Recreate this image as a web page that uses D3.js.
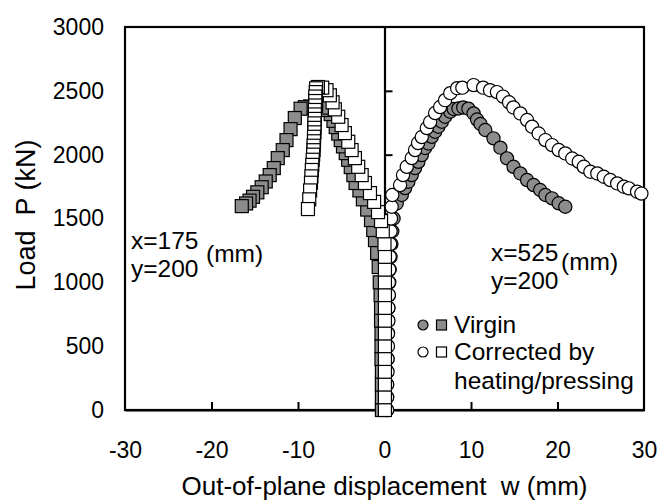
<!DOCTYPE html>
<html>
<head>
<meta charset="utf-8">
<script src="https://cdn.jsdelivr.net/npm/d3@7"></script>
<style>
  html, body { margin: 0; padding: 0; background: #fff; }
  svg text { font-family: "Liberation Sans", Arial, sans-serif; fill: #000; }
</style>
</head>
<body>
<svg id="chart" width="659" height="503"></svg>
<script>
// ---- data: [w (mm), P (kN)] ----
const xTicks = [-30, -20, -10, 0, 10, 20, 30];
const yTicks = [0, 500, 1000, 1500, 2000, 2500, 3000];

const virginCircles = [
  [0.3,0],[0.3,100],[0.3,200],[0.3,300],[0.35,400],[0.35,500],[0.4,600],[0.4,700],[0.45,800],[0.5,900],
  [0.55,1000],[0.6,1100],[0.7,1200],[0.8,1300],[0.9,1400],[1.05,1500],[1.41,1618],[2.0,1684],[2.38,1738],
  [2.76,1788],[3.15,1840],[3.53,1895],[3.92,1944],[4.31,1997],[4.69,2052],[5.08,2088],[5.47,2140],[5.85,2180],
  [6.23,2219],[6.63,2258],[7.0,2297],[7.6,2336],[8.0,2358],[8.55,2362],[9.1,2370],[9.7,2360],[10.3,2323],
  [10.7,2275],[11.1,2240],[11.65,2193],[12.6,2128],[13.4,2055],[14.16,1971],[14.92,1905],[15.7,1853],
  [16.48,1801],[17.24,1762],[18.0,1723],[18.6,1684],[19.37,1658],[20.14,1619],[20.9,1592]
];

const correctedCircles = [
  [0.3,0],[0.3,100],[0.3,200],[0.35,300],[0.35,400],[0.4,500],[0.4,600],[0.45,700],[0.45,800],[0.5,900],
  [0.5,1000],[0.55,1100],[0.6,1200],[0.65,1300],[0.7,1400],[0.75,1500],[0.83,1592],[0.9,1684],[1.8,1762],
  [2.14,1840],[2.57,1905],[3.15,1973],[3.53,2036],[3.88,2091],[4.31,2138],[4.89,2208],[5.27,2255],[5.85,2326],
  [6.43,2373],[7.0,2427],[7.6,2482],[8.4,2521],[9.0,2525],[10.3,2545],[11.4,2525],[12.2,2505],[13.0,2490],
  [13.7,2455],[14.4,2410],[14.9,2370],[15.7,2323],[16.48,2271],[17.06,2219],[17.82,2166],[18.6,2114],
  [19.37,2075],[20.14,2036],[20.9,2010],[21.7,1970],[22.46,1944],[23.04,1905],[23.8,1866],[24.6,1853],
  [25.35,1827],[26.1,1801],[26.9,1775],[27.67,1749],[28.25,1736],[29.2,1710],[29.7,1695]
];

const virginSquares = [
  [-0.3,0],[-0.3,100],[-0.3,200],[-0.3,300],[-0.35,400],[-0.35,500],[-0.35,600],[-0.4,700],[-0.4,800],
  [-0.45,900],[-0.55,1000],[-0.67,1120],[-0.85,1230],[-1.1,1331],[-1.3,1410],[-1.56,1488],[-2.0,1570],
  [-2.5,1650],[-2.9,1720],[-3.34,1778],[-3.6,1840],[-3.9,1903],[-4.2,1960],[-4.48,2012],[-4.8,2065],
  [-5.06,2114],[-5.35,2165],[-5.64,2216],[-5.9,2265],[-6.22,2318],[-6.6,2350],[-7.2,2368],[-7.9,2378],
  [-8.6,2378],[-9.2,2372],[-9.7,2360],[-10.37,2287],[-10.86,2200],[-11.33,2114],[-11.76,2036],[-12.34,1973],
  [-12.8,1895],[-13.27,1840],[-13.73,1790],[-14.2,1745],[-14.7,1705],[-15.2,1670],[-15.6,1640],[-16.0,1618],
  [-16.5,1597]
];

const correctedSquares = [
  [0.05,0],[0.05,100],[0.05,200],[0.05,300],[0.05,400],[0.05,500],[0.05,600],[0.05,700],[0.05,800],
  [0.05,900],[0.05,1000],[0.05,1100],[0.05,1200],[0.0,1300],[-0.2,1400],[-0.4,1480],[-0.75,1550],
  [-1.2,1630],[-1.68,1699],[-2.26,1778],[-2.64,1840],[-3.04,1905],[-3.42,1973],[-3.8,2036],[-4.19,2101],
  [-4.58,2169],[-4.96,2232],[-5.35,2297],[-5.74,2355],[-6.0,2410],[-6.32,2465],[-6.7,2505],[-7.2,2525],
  [-7.7,2530],[-7.9,2520],[-7.95,2490],[-8.0,2455],[-8.0,2420],[-8.0,2385],[-8.05,2350],[-8.05,2315],
  [-8.05,2280],[-8.1,2245],[-8.1,2210],[-8.1,2175],[-8.15,2140],[-8.15,2105],[-8.2,2070],[-8.2,2035],
  [-8.25,2000],[-8.3,1960],[-8.35,1920],[-8.4,1880],[-8.45,1830],[-8.5,1780],[-8.6,1720],[-8.7,1650],
  [-8.85,1574]
];

const legendItems = [
  { label: ["Virgin"], fill: "#8c8c8c" },
  { label: ["Corrected by", "heating/pressing"], fill: "#ffffff" }
];

// ---- layout ----
const svg = d3.select("#chart");
const x = d3.scaleLinear().domain([-30, 30]).range([125, 644]);
const y = d3.scaleLinear().domain([0, 3000]).range([410, 27]);
const GRAY = "#8c8c8c";
const FS = "24.5px";
const TFS = "23px";
const plain = d => String(d);

// frame
svg.append("rect")
  .attr("x", x(-30)).attr("y", y(3000))
  .attr("width", x(30) - x(-30)).attr("height", y(0) - y(3000))
  .attr("fill", "none").attr("stroke", "#000").attr("stroke-width", 2.2);

// bottom axis (ticks pointing up)
const xAxis = d3.axisBottom(x).tickValues(xTicks).tickFormat(plain)
  .tickSizeInner(-8).tickSizeOuter(0).tickPadding(32);
const gx = svg.append("g").attr("transform", `translate(0,${y(0)})`).call(xAxis);
gx.select(".domain").attr("stroke-width", 2.2);
gx.selectAll(".tick line").attr("stroke-width", 2)
  .filter(d => d === -30 || d === 30).remove();
gx.selectAll(".tick text").attr("font-size", TFS).attr("font-family", "Liberation Sans, Arial, sans-serif");

// central axis at w = 0 (ticks pointing right)
const yAxisC = d3.axisRight(y).tickValues(yTicks).tickSizeInner(8).tickSizeOuter(0).tickFormat("");
const gc = svg.append("g").attr("transform", `translate(${x(0)},0)`).call(yAxisC);
gc.select(".domain").attr("stroke-width", 2.2);
gc.selectAll(".tick line").attr("stroke-width", 2)
  .filter(d => d === 0 || d === 3000).remove();

// left axis labels
const yAxisL = d3.axisLeft(y).tickValues(yTicks).tickFormat(plain).tickSize(0).tickPadding(21);
const gl = svg.append("g").attr("transform", `translate(${x(-30)},0)`).call(yAxisL);
gl.select(".domain").remove();
gl.selectAll(".tick text").attr("font-size", TFS).attr("font-family", "Liberation Sans, Arial, sans-serif");

// axis titles
svg.append("text").attr("x", x(0)).attr("y", 495).attr("text-anchor", "middle")
  .attr("font-size", "26px").attr("xml:space", "preserve")
  .text("Out-of-plane displacement  w (mm)");
svg.append("text").attr("transform", `translate(35,215) rotate(-90)`)
  .attr("text-anchor", "middle").attr("font-size", "27px").attr("xml:space", "preserve")
  .text("Load  P (kN)");

// series
const plot = svg.append("g");
function circles(data, fill) {
  plot.append("g").selectAll("circle").data(data).join("circle")
    .attr("cx", d => x(d[0])).attr("cy", d => y(d[1])).attr("r", 6.6)
    .attr("fill", fill).attr("stroke", "#000").attr("stroke-width", 1.2);
}
function squares(data, fill) {
  const s = 13;
  plot.append("g").selectAll("rect").data(data).join("rect")
    .attr("x", d => x(d[0]) - s/2).attr("y", d => y(d[1]) - s/2)
    .attr("width", s).attr("height", s)
    .attr("fill", fill).attr("stroke", "#000").attr("stroke-width", 1.2);
}
circles(virginCircles, GRAY);
circles(correctedCircles, "#fff");
squares(virginSquares, GRAY);
squares(correctedSquares, "#fff");

// annotations
function annot(xl, yb, xs, ys) {
  svg.append("text").attr("x", xl).attr("y", yb).attr("font-size", FS).text(xs);
  svg.append("text").attr("x", xl).attr("y", yb + 28).attr("font-size", FS).text(ys);
}
annot(131, 249, "x=175", "y=200");
svg.append("text").attr("x", 206).attr("y", 262).attr("font-size", FS).text("(mm)");
annot(491, 261, "x=525", "y=200");
svg.append("text").attr("x", 561).attr("y", 270).attr("font-size", FS).text("(mm)");

// legend
const lg = svg.append("g");
legendItems.forEach((it, i) => {
  const cy = 325 + i * 27;
  lg.append("circle").attr("cx", 423).attr("cy", cy).attr("r", 5)
    .attr("fill", it.fill).attr("stroke", "#000").attr("stroke-width", 1.2);
  lg.append("rect").attr("x", 436.5).attr("y", cy - 5).attr("width", 10).attr("height", 10)
    .attr("fill", it.fill).attr("stroke", "#000").attr("stroke-width", 1.2);
  it.label.forEach((t, j) => {
    lg.append("text").attr("x", 454).attr("y", cy + 8 + j * 29).attr("font-size", FS).text(t);
  });
});
</script>
</body>
</html>
